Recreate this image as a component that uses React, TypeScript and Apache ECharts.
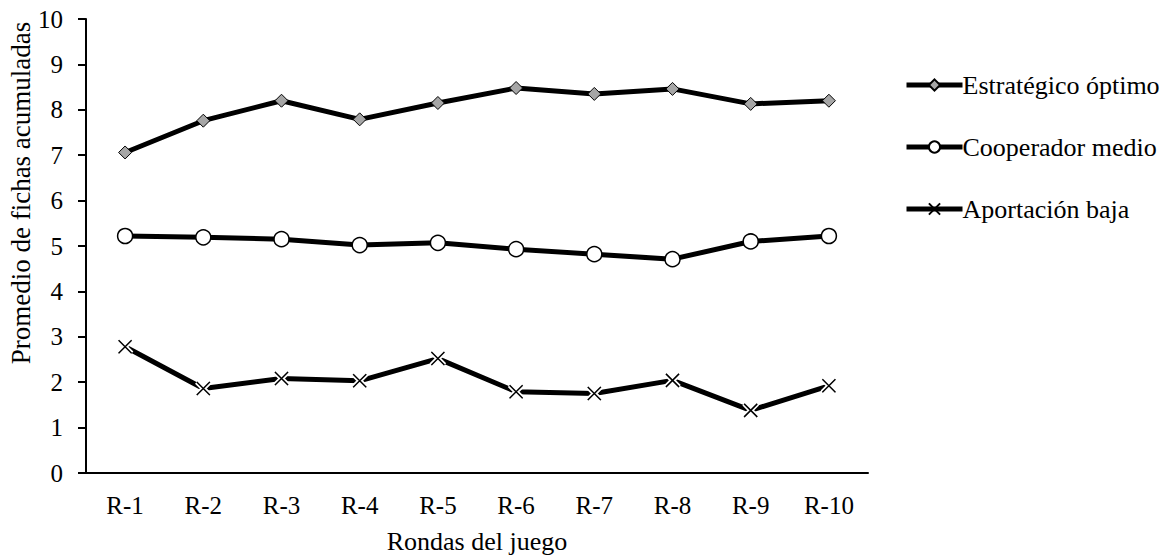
import React, { useEffect, useRef } from "react";
import * as echarts from "echarts";

const categories = ["R-1", "R-2", "R-3", "R-4", "R-5", "R-6", "R-7", "R-8", "R-9", "R-10"];
const estrategico = [7.06, 7.76, 8.2, 7.79, 8.15, 8.48, 8.35, 8.46, 8.13, 8.2];
const cooperador = [5.22, 5.19, 5.15, 5.02, 5.07, 4.93, 4.82, 4.71, 5.1, 5.22];
const aportacion = [2.78, 1.86, 2.08, 2.03, 2.52, 1.79, 1.75, 2.04, 1.38, 1.92];
const seriesNames = ["Estratégico óptimo", "Cooperador medio", "Aportación baja"];
const yTitle = "Promedio de fichas acumuladas";
const xTitle = "Rondas del juego";

const FONT = "'Liberation Serif', 'Times New Roman', serif";
const CROSS = "path://M0,0 L10,10 M10,0 L0,10";

export default function App() {
  const ref = useRef<HTMLDivElement>(null);
  useEffect(() => {
    if (!ref.current) return;
    const chart = echarts.init(ref.current, null, { renderer: "svg" });
    const line = { color: "#000", width: 5 };
    chart.setOption({
      animation: false,
      backgroundColor: "#fff",
      textStyle: { fontFamily: FONT },
      legend: {
        orient: "vertical",
        left: 899,
        top: 67,
        itemWidth: 56,
        itemHeight: 14,
        itemGap: 36,
        lineStyle: { width: 5, color: "#000" },
        textStyle: { fontFamily: FONT, fontSize: 26, color: "#000", padding: [0, 0, 0, -5] },
        data: seriesNames,
      },
      graphic: [
        {
          type: "text",
          x: 21,
          y: 193,
          rotation: Math.PI / 2,
          style: {
            text: yTitle,
            fontFamily: FONT,
            fontSize: 27,
            fill: "#000",
            textAlign: "center",
            textVerticalAlign: "middle",
          },
        },
      ],
      grid: { left: 86, top: 19, right: 300, bottom: 83, containLabel: false, outerBoundsMode: "none" },
      xAxis: {
        type: "category",
        data: categories,
        boundaryGap: true,
        name: xTitle,
        nameLocation: "middle",
        nameGap: 55,
        nameTextStyle: { fontFamily: FONT, fontSize: 26, color: "#000" },
        axisLine: { lineStyle: { color: "#000", width: 2 } },
        axisTick: { show: false },
        axisLabel: { fontFamily: FONT, fontSize: 25, color: "#000", margin: 20 },
      },
      yAxis: {
        type: "value",
        min: 0,
        max: 10,
        interval: 1,
        axisLine: { show: true, lineStyle: { color: "#000", width: 2 } },
        axisTick: { show: true, inside: false, length: 8, lineStyle: { color: "#000", width: 2 } },
        axisLabel: { fontFamily: FONT, fontSize: 25, color: "#000", margin: 23 },
        splitLine: { show: false },
      },
      series: [
        {
          name: seriesNames[0],
          type: "line",
          data: estrategico,
          lineStyle: line,
          symbol: "diamond",
          symbolSize: 13,
          itemStyle: { color: "#a6a6a6", borderColor: "#000", borderWidth: 1 },
        },
        {
          name: seriesNames[1],
          type: "line",
          data: cooperador,
          lineStyle: line,
          symbol: "circle",
          symbolSize: 15,
          itemStyle: { color: "#fff", borderColor: "#000", borderWidth: 1.5 },
        },
        {
          name: seriesNames[2],
          type: "line",
          data: aportacion,
          lineStyle: line,
          symbol: CROSS,
          symbolSize: 13,
          itemStyle: { color: "#000", borderColor: "#000", borderWidth: 1.5 },
          z: 2,
        },
        {
          name: "halo",
          type: "line",
          data: aportacion,
          lineStyle: { width: 0, opacity: 0 },
          symbol: CROSS,
          symbolSize: 13,
          itemStyle: { color: "#fff", borderColor: "#fff", borderWidth: 5 },
          z: 3,
          silent: true,
        },
        {
          name: "cross",
          type: "line",
          data: aportacion,
          lineStyle: { width: 0, opacity: 0 },
          symbol: CROSS,
          symbolSize: 13,
          itemStyle: { color: "#000", borderColor: "#000", borderWidth: 1.5 },
          z: 4,
          silent: true,
        },
      ],
    });
    return () => chart.dispose();
  }, []);
  return <div ref={ref} style={{ width: 1168, height: 556, position: "absolute", left: 0, top: 0 }} />;
}
